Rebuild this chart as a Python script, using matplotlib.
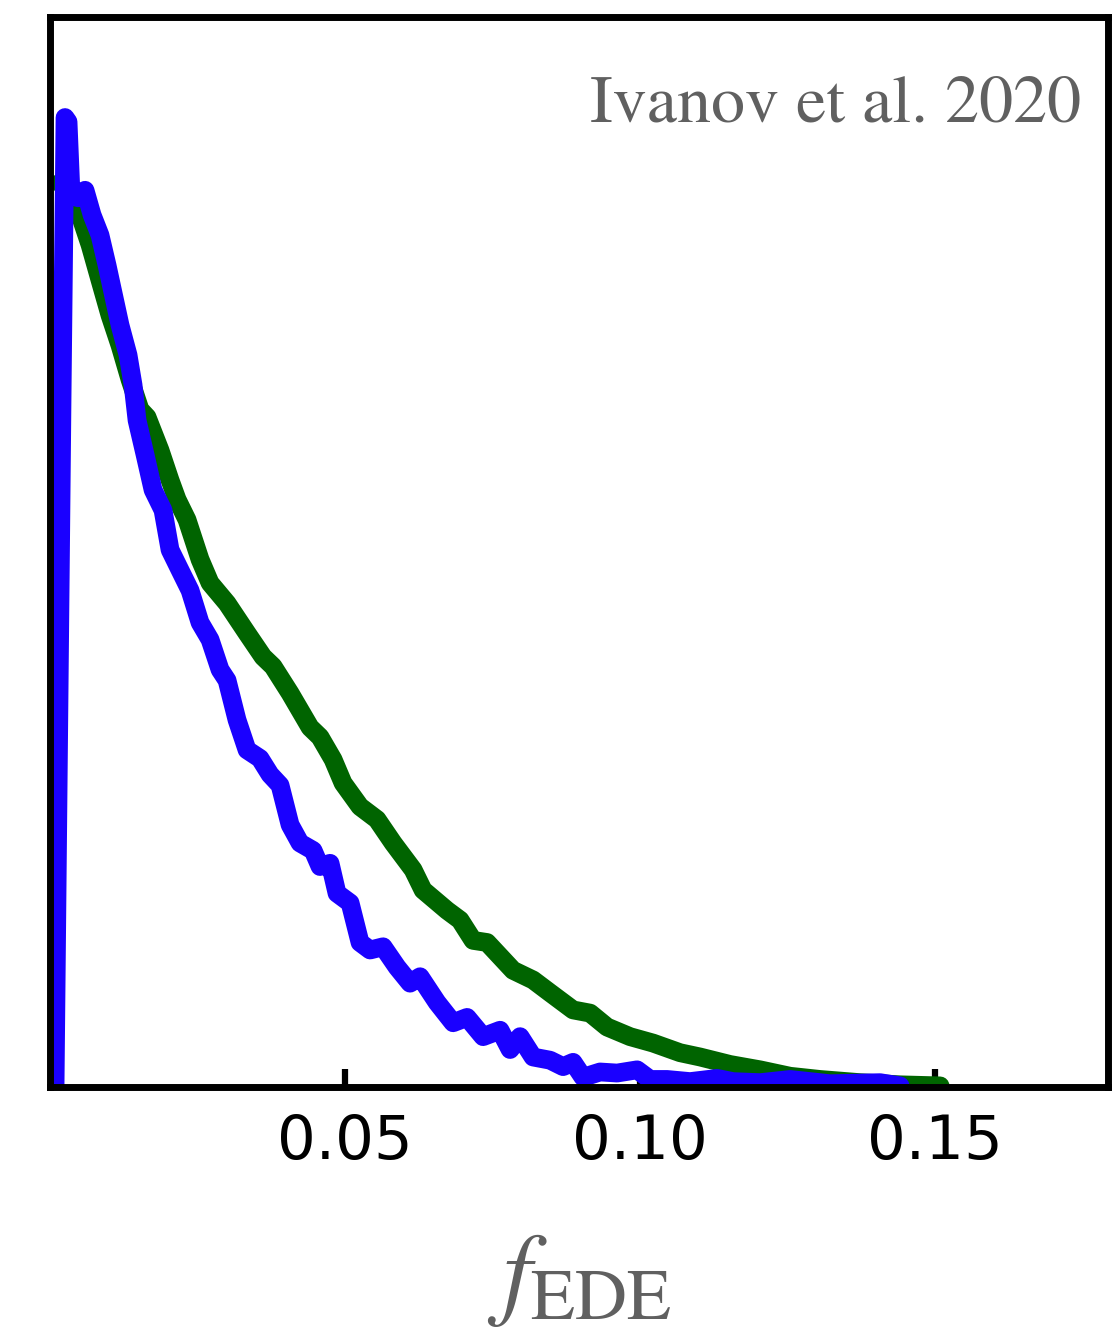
import matplotlib.pyplot as plt

plt.rcParams["mathtext.fontset"] = "stix"

# posterior of f_EDE (normalised to axis height)
blue_f = [0.00085, 0.00203, 0.00254, 0.00305, 0.00356, 0.00475, 0.00593, 0.00712,
          0.00847, 0.00966, 0.01068, 0.01186, 0.01322, 0.01407, 0.01475, 0.01610,
          0.01746, 0.01915, 0.02034, 0.02203, 0.02373, 0.02542, 0.02712, 0.02881,
          0.03000, 0.03169, 0.03339, 0.03559, 0.03729, 0.03898, 0.04068, 0.04237,
          0.04458, 0.04576, 0.04746, 0.04864, 0.05085, 0.05254, 0.05424, 0.05644,
          0.05881, 0.06102, 0.06271, 0.06559, 0.06831, 0.07068, 0.07339, 0.07627,
          0.07797, 0.07966, 0.08186, 0.08475, 0.08695, 0.08864, 0.09034, 0.09322,
          0.09610, 0.09949, 0.10169, 0.10458, 0.10847, 0.11305, 0.11576, 0.12034,
          0.12542, 0.13220, 0.14068, 0.14407]
blue_p = [0.000, 0.642, 0.906, 0.902, 0.834, 0.831, 0.838, 0.815,
          0.796, 0.768, 0.742, 0.712, 0.684, 0.656, 0.623, 0.591,
          0.558, 0.539, 0.502, 0.483, 0.464, 0.434, 0.418, 0.390,
          0.380, 0.343, 0.315, 0.307, 0.292, 0.282, 0.245, 0.228,
          0.221, 0.206, 0.209, 0.181, 0.172, 0.135, 0.128, 0.131,
          0.112, 0.097, 0.103, 0.079, 0.060, 0.065, 0.047, 0.053,
          0.035, 0.047, 0.028, 0.025, 0.019, 0.023, 0.009, 0.014,
          0.013, 0.016, 0.007, 0.007, 0.005, 0.008, 0.005, 0.004,
          0.007, 0.003, 0.004, 0.001]

green_f = [0.00169, 0.00339, 0.00508, 0.00678, 0.00847, 0.01017, 0.01186,
           0.01356, 0.01525, 0.01644, 0.01864, 0.02034, 0.02153, 0.02322, 0.02542,
           0.02712, 0.03000, 0.03339, 0.03610, 0.03780, 0.04068, 0.04407, 0.04576,
           0.04797, 0.04966, 0.05254, 0.05542, 0.05814, 0.06153, 0.06322, 0.06729,
           0.06949, 0.07169, 0.07407, 0.07847, 0.08186, 0.08475, 0.08864, 0.09153,
           0.09441, 0.09831, 0.10220, 0.10678, 0.11017, 0.11525, 0.12034, 0.12542,
           0.13051, 0.13729, 0.14407, 0.15085]
green_p = [0.845, 0.835, 0.815, 0.787, 0.754, 0.721, 0.693,
           0.661, 0.633, 0.626, 0.595, 0.567, 0.549, 0.530, 0.493,
           0.471, 0.452, 0.424, 0.402, 0.393, 0.368, 0.336, 0.327,
           0.306, 0.284, 0.262, 0.250, 0.228, 0.203, 0.184, 0.165,
           0.156, 0.137, 0.135, 0.109, 0.100, 0.088, 0.072, 0.069,
           0.056, 0.047, 0.041, 0.032, 0.028, 0.021, 0.016, 0.010,
           0.007, 0.004, 0.002, 0.001]

xticks = [0.05, 0.10, 0.15]
xticklabels = ["0.05", "0.10", "0.15"]

fig = plt.figure(figsize=(11.12, 13.35), dpi=100)
ax = fig.add_axes([0.045, 0.1858, 0.9514, 0.8015])

ax.plot(green_f, green_p, color="#006400", lw=13.5, solid_capstyle="round", solid_joinstyle="round")
ax.plot(blue_f, blue_p, color="#1a00ff", lw=13.5, solid_capstyle="round", solid_joinstyle="round")

ax.set_xlim(0, 0.1793)
ax.set_ylim(0, 1)
ax.set_xticks(xticks)
ax.set_xticklabels(xticklabels)
ax.set_yticks([])
ax.tick_params(axis="x", direction="in", length=13, width=4.5, labelsize=44, pad=19)
for s in ax.spines.values():
    s.set_linewidth(5)

ax.text(0.975, 0.902, "Ivanov et al. 2020", transform=ax.transAxes, ha="right",
        va="baseline", fontsize=49, family="STIXGeneral", color="#606060")
ax.set_xlabel(r"$f_{\rm EDE}$", fontsize=74, color="#606060", labelpad=40)

fig.savefig("out.png", dpi=100)
